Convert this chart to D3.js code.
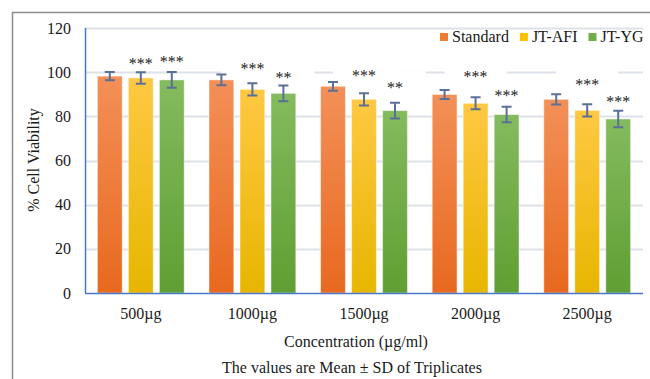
<!DOCTYPE html>
<html>
<head>
<meta charset="utf-8">
<script src="https://cdn.jsdelivr.net/npm/d3@7"></script>
<style>
  html, body { margin: 0; padding: 0; background: #fff; }
  svg { display: block; }
  text { font-family: "Liberation Serif", "Times New Roman", serif; fill: #1a1a1a; }
</style>
</head>
<body>
<svg id="chart" width="650" height="379"></svg>
<script>
// ---- data ----
const categories = ["500µg", "1000µg", "1500µg", "2000µg", "2500µg"];
const seriesNames = ["Standard", "JT-AFI", "JT-YG"];
const standardValues = [98.2, 96.5, 93.6, 89.9, 87.7];
const jtAfiValues = [97.4, 92.2, 87.7, 85.9, 82.7];
const jtYgValues = [96.5, 90.4, 82.6, 80.8, 78.8];
const standardSD = [1.9, 2.4, 2.0, 2.0, 2.3];
const jtAfiSD = [2.6, 2.8, 2.8, 2.7, 2.8];
const jtYgSD = [3.6, 3.6, 3.6, 3.5, 3.7];
const jtAfiSig = ["***", "***", "***", "***", "***"];
const jtYgSig = ["***", "**", "**", "***", "***"];
const jtAfiSigLevel = [105.1, 102.9, 99.8, 99.3, 95.6];
const jtYgSigLevel = [106.0, 98.6, 94.1, 90.4, 88.0];
const yTicks = [0, 20, 40, 60, 80, 100, 120];

// ---- layout ----
const svg = d3.select("#chart");
const plot = { left: 85, right: 643, top: 28, bottom: 293 };
const FS = 16;
const colors = {
  "Standard": { legend: "#ed7d31", top: "#f39058", bottom: "#e8691f" },
  "JT-AFI": { legend: "#ffc000", top: "#ffc843", bottom: "#e7b600" },
  "JT-YG": { legend: "#70ad47", top: "#84bb5e", bottom: "#5f9f33" }
};

// outer frame
svg.append("path")
  .attr("d", "M12.5,379 L12.5,12.5 L650,12.5")
  .attr("fill", "none").attr("stroke", "#8c8c8c").attr("stroke-width", 1.5);

const defs = svg.append("defs");
seriesNames.forEach((s, i) => {
  const g = defs.append("linearGradient").attr("id", "grad" + i)
    .attr("x1", 0).attr("y1", 0).attr("x2", 0).attr("y2", 1);
  g.append("stop").attr("offset", "0%").attr("stop-color", colors[s].top);
  g.append("stop").attr("offset", "100%").attr("stop-color", colors[s].bottom);
});

const y = d3.scaleLinear().domain([0, 120]).range([plot.bottom, plot.top]);
const x0 = d3.scaleBand().domain(categories).range([plot.left, plot.right])
  .paddingInner(1 / 6).paddingOuter(1 / 12);
const x1 = d3.scaleBand().domain(seriesNames).range([0, x0.bandwidth()])
  .paddingInner(0.2).paddingOuter(0.1);

// gridlines
svg.append("g").selectAll("line").data(yTicks.filter(t => t > 0)).join("line")
  .attr("x1", plot.left).attr("x2", plot.right)
  .attr("y1", d => Math.round(y(d)) + 0.5).attr("y2", d => Math.round(y(d)) + 0.5)
  .attr("stroke", "#dde2e8").attr("stroke-width", 2);

const valuesBySeries = [standardValues, jtAfiValues, jtYgValues];
const sdBySeries = [standardSD, jtAfiSD, jtYgSD];
const rows = [];
categories.forEach((c, ci) => {
  seriesNames.forEach((s, si) => {
    rows.push({ c, s, si, v: valuesBySeries[si][ci], sd: sdBySeries[si][ci] });
  });
});
const sigRows = [];
categories.forEach((c, ci) => {
  sigRows.push({ c, s: "JT-AFI", t: jtAfiSig[ci], lv: jtAfiSigLevel[ci] });
  sigRows.push({ c, s: "JT-YG", t: jtYgSig[ci], lv: jtYgSigLevel[ci] });
});
const cx = d => x0(d.c) + x1(d.s) + x1.bandwidth() / 2;

// white label boxes (hide gridlines behind significance labels)
svg.append("g").selectAll("rect").data(sigRows).join("rect")
  .attr("x", d => cx(d) - 31).attr("y", d => y(d.lv) - 14)
  .attr("width", 62).attr("height", 23).attr("fill", "#fff");

// bars
svg.append("g").selectAll("rect").data(rows).join("rect")
  .attr("x", d => x0(d.c) + x1(d.s))
  .attr("y", d => y(d.v))
  .attr("width", x1.bandwidth())
  .attr("height", d => y(0) - y(d.v))
  .attr("fill", d => "url(#grad" + d.si + ")")
  .attr("stroke", "rgba(255,255,255,0.45)").attr("stroke-width", 1);

// error bars
const eb = svg.append("g").attr("stroke", "#5b7096").attr("stroke-width", 2).attr("fill", "none");
eb.selectAll("path").data(rows).join("path")
  .attr("d", d => {
    const xc = cx(d), yt = y(d.v + d.sd), yb = y(d.v - d.sd);
    return `M${xc - 5},${yt} H${xc + 5} M${xc},${yt} V${yb} M${xc - 5},${yb} H${xc + 5}`;
  });

// axes lines
svg.append("line").attr("x1", plot.left + 0.5).attr("x2", plot.left + 0.5)
  .attr("y1", plot.top).attr("y2", plot.bottom).attr("stroke", "#4a78c8").attr("stroke-width", 1.5);
svg.append("line").attr("x1", plot.left).attr("x2", plot.right)
  .attr("y1", plot.bottom + 0.5).attr("y2", plot.bottom + 0.5).attr("stroke", "#4a78c8").attr("stroke-width", 1.5);

// y tick labels
svg.append("g").selectAll("text").data(yTicks).join("text")
  .attr("x", 71).attr("y", d => y(d)).attr("dy", "0.35em")
  .attr("text-anchor", "end").attr("font-size", FS).text(d => d);

// x tick labels
svg.append("g").selectAll("text").data(categories).join("text")
  .attr("x", d => x0(d) + x0.bandwidth() / 2).attr("y", 319)
  .attr("text-anchor", "middle").attr("font-size", FS).text(d => d);

// significance labels
svg.append("g").selectAll("text").data(sigRows).join("text")
  .attr("x", d => cx(d)).attr("y", d => y(d.lv) + 8)
  .attr("text-anchor", "middle").attr("font-size", FS).attr("fill", "#222")
  .text(d => d.t);

// axis titles
svg.append("text").attr("transform", "translate(33,160) rotate(-90)")
  .attr("dy", "0.35em")
  .attr("text-anchor", "middle").attr("font-size", FS).text("% Cell Viability");
svg.append("text").attr("x", 356).attr("y", 347)
  .attr("text-anchor", "middle").attr("font-size", FS).text("Concentration (µg/ml)");
svg.append("text").attr("x", 352).attr("y", 373)
  .attr("text-anchor", "middle").attr("font-size", FS).text("The values are Mean ± SD of Triplicates");

// legend
const legend = svg.append("g");
let lx = 440;
seriesNames.forEach(s => {
  legend.append("rect").attr("x", lx).attr("y", 33).attr("width", 8).attr("height", 8)
    .attr("fill", colors[s].legend);
  const t = legend.append("text").attr("x", lx + 12).attr("y", 42)
    .attr("font-size", FS).text(s);
  lx += 12 + t.node().getComputedTextLength() + 11;
});
</script>
</body>
</html>
